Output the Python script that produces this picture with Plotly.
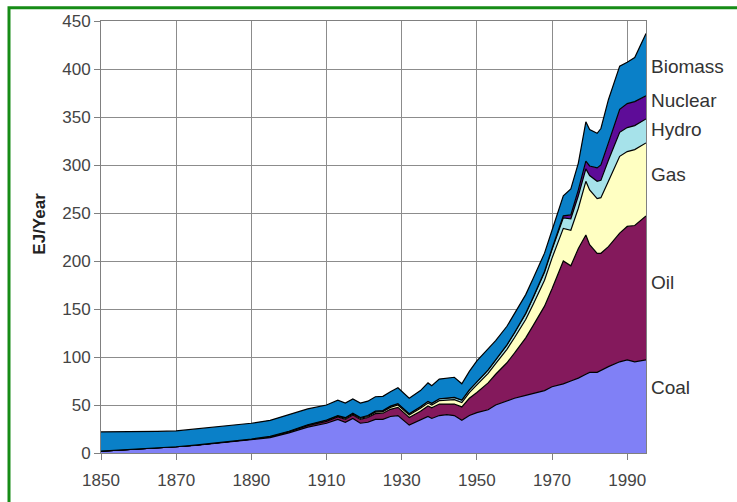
import plotly.graph_objects as go

years = [1850, 1855, 1860, 1865, 1870, 1875, 1880, 1885, 1890, 1895, 1900, 1905, 1910,
         1913, 1915, 1917, 1919, 1921, 1923, 1925, 1927, 1929,
         1932, 1935, 1937, 1938, 1940, 1942, 1944, 1946, 1948,
         1950, 1953, 1955, 1958, 1960, 1963, 1965, 1968, 1970,
         1973, 1975, 1977, 1979, 1980, 1982, 1983, 1985, 1988, 1990, 1992, 1995]

coal = [2, 3, 4.5, 5.5, 6.5, 8, 10, 11.5, 13.5, 16, 21, 27, 31,
        35, 32, 36, 31, 32, 35, 35, 38, 39,
        29, 34, 38, 36, 39, 40, 39, 34, 39,
        42, 45, 50, 54, 57, 60, 62, 65, 69,
        72, 75, 78, 82, 84, 84, 86, 90, 95, 97, 95, 97]

oil = [0, 0, 0, 0, 0, 0.2, 0.3, 0.5, 0.7, 0.9, 1, 1.5, 2,
       2.5, 3, 3.5, 4, 5, 6, 6.5, 7.5, 8.5,
       8, 9.5, 11, 11, 12, 11, 12, 14, 18,
       21, 28, 32, 40, 47, 60, 71, 88, 102,
       128, 120, 135, 145, 133, 124, 122, 125, 134, 139, 142, 150]

gas = [0, 0, 0, 0, 0, 0, 0, 0.2, 0.3, 0.3, 0.3, 0.5, 0.8,
       0.8, 1, 1, 1, 1, 1.5, 1.5, 2, 2.5,
       2.5, 3, 3, 3, 3.5, 4, 4.5, 4.5, 6,
       8, 10, 11, 14, 16, 19, 22, 27, 32,
       34, 37, 42, 56, 57, 57, 58, 68, 80, 78, 79, 76]

hydro = [0, 0, 0, 0, 0, 0, 0, 0, 0, 0.1, 0.3, 0.45, 0.6,
         0.7, 0.8, 0.9, 1, 1, 1.1, 1.2, 1.3, 1.4,
         1.5, 1.7, 1.8, 1.8, 2, 2.2, 2.4, 2.6, 2.8,
         3, 3.6, 4, 4.6, 5, 6.2, 7, 8.2, 9,
         11, 12, 13, 13, 15, 18, 18, 22, 25, 25, 25, 25]

nuclear = [0, 0, 0, 0, 0, 0, 0, 0, 0, 0, 0, 0, 0,
           0, 0, 0, 0, 0, 0, 0, 0, 0,
           0, 0, 0, 0, 0, 0, 0, 0, 0,
           0, 0, 0, 0.1, 0.2, 0.3, 0.5, 1, 1,
           2, 4, 6, 8, 10, 14, 16, 18, 24, 25, 25, 24]

biomass = [20, 19, 18, 17, 16.5, 16.8, 16.7, 16.8, 16.5, 16.7, 17.4, 16.5, 15.6,
           16, 15.2, 15, 15, 15, 15, 14.8, 15, 16.6,
           16, 16.8, 19.2, 18.2, 20.5, 21, 21, 17, 19.2,
           22, 21.4, 20, 19.3, 19.8, 19.5, 19.5, 19, 19,
           21, 27, 28, 41, 38, 36, 38, 45, 45, 43, 46, 65]

series_names = ["Coal", "Oil", "Gas", "Hydro", "Nuclear", "Biomass"]
series_values = [coal, oil, gas, hydro, nuclear, biomass]
series_colors = ["#8080F6", "#84195C", "#FFFFC2", "#A6E2EA", "#5E0C98", "#0A80C8"]
label_y = [68, 178, 290, 337, 367, 403]

x_ticks = [1850, 1870, 1890, 1910, 1930, 1950, 1970, 1990]
y_ticks = [0, 50, 100, 150, 200, 250, 300, 350, 400, 450]

fig = go.Figure()
for name, vals, col in zip(series_names, series_values, series_colors):
    fig.add_trace(go.Scatter(
        x=years, y=vals, name=name, stackgroup="one", mode="lines",
        line=dict(color="black", width=1.2), fillcolor=col,
    ))

tick_font = dict(family="Liberation Sans, Arial, sans-serif", size=17, color="#444444")
fig.update_layout(
    width=737, height=502,
    margin=dict(l=101, r=91, t=20, b=45),
    paper_bgcolor="white", plot_bgcolor="white",
    showlegend=False,
    xaxis=dict(range=[1850, 1995], tickvals=x_ticks, ticks="outside", ticklen=6,
               tickcolor="#808080", showgrid=True, gridcolor="#8c8c8c", gridwidth=1,
               showline=True, linecolor="#808080", mirror=True, zeroline=False,
               tickfont=tick_font, ticklabelstandoff=6),
    yaxis=dict(range=[0, 450], tickvals=y_ticks, ticks="outside", ticklen=6,
               tickcolor="#808080", showgrid=True, gridcolor="#8c8c8c", gridwidth=1,
               showline=True, linecolor="#808080", mirror=True, zeroline=False,
               tickfont=tick_font),
)

fig.add_annotation(text="<b>EJ/Year</b>", textangle=-90, xref="paper", yref="paper",
                   x=(40 - 101) / 545, y=(457 - 225) / 437, xanchor="center", yanchor="middle",
                   showarrow=False, font=dict(family="Liberation Sans, Arial, sans-serif", size=17, color="#222222"))

for name, ly in zip(series_names, label_y):
    fig.add_annotation(text=name, xref="paper", yref="y", x=1, y=ly, xanchor="left", yanchor="middle",
                       xshift=3, showarrow=False,
                       font=dict(family="Liberation Sans, Arial, sans-serif", size=19, color="#333333"))

# green frame around the figure
fig.add_shape(type="rect", xref="paper", yref="paper",
              x0=(9 - 101) / 545, x1=2.0, y0=-1.0, y1=(457 - 6.5) / 437,
              line=dict(color="#168C16", width=3), fillcolor="rgba(0,0,0,0)", layer="above")

fig.write_html("out.html", config={"displayModeBar": False, "staticPlot": True},
               post_script="document.body.style.margin='0';document.body.style.overflow='hidden';")
